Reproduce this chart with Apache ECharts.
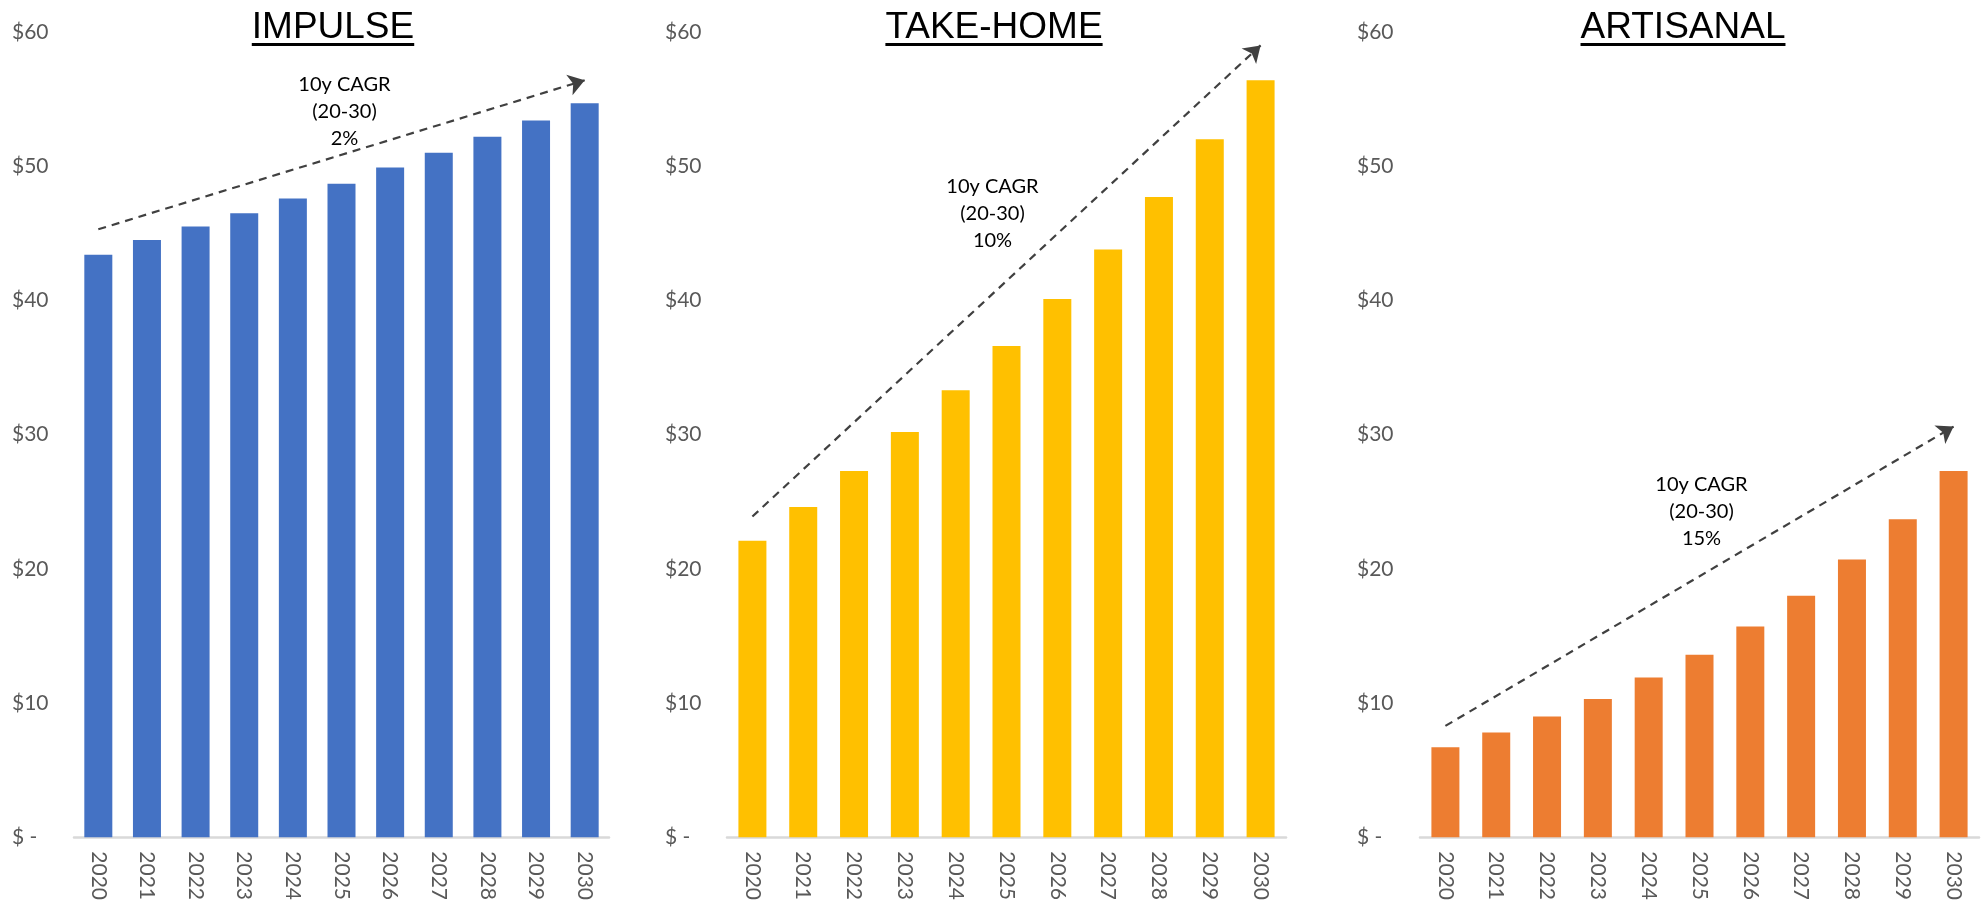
<!DOCTYPE html>
<html>
<head>
<meta charset="utf-8">
<title>Market size by segment</title>
<script src="https://cdn.jsdelivr.net/npm/echarts@6/dist/echarts.min.js"></script>
<style>
  html, body { margin: 0; padding: 0; background: #fff; }
  #main { width: 1984px; height: 903px; }
</style>
</head>
<body>
<div id="main"></div>
<script>
// categories
var years = ["2020", "2021", "2022", "2023", "2024", "2025", "2026", "2027", "2028", "2029", "2030"];

// series values ($)
var impulse = [43.4, 44.5, 45.5, 46.5, 47.6, 48.7, 49.9, 51.0, 52.2, 53.4, 54.7];
var takeHome = [22.1, 24.6, 27.3, 30.2, 33.3, 36.6, 40.1, 43.8, 47.7, 52.0, 56.4];
var artisanal = [6.7, 7.8, 9.0, 10.3, 11.9, 13.6, 15.7, 18.0, 20.7, 23.7, 27.3];

// panel titles and CAGR notes
var titles = ["IMPULSE", "TAKE-HOME", "ARTISANAL"];
var cagr = ["2%", "10%", "15%"];

// dashed trend arrows, value at 2020 and at 2030
var trendStart = [45.3, 23.9, 8.3];
var trendEnd = [56.4, 59.0, 30.6];

// where the CAGR note sits (value on the y axis)
var noteY = [54.1, 46.5, 24.3];

// y axis ticks
var yMin = 0, yMax = 60, yStep = 10;

var colors = ["#4472C4", "#FFC000", "#ED7D31"];
var values = [impulse, takeHome, artisanal];

// layout of the three panels
var panels = [
  { left: 74, width: 535, top: 32, height: 806, labelGap: 62, titleX: 333, noteDx: 3 },
  { left: 727, width: 559, top: 32, height: 808, labelGap: 62, titleX: 994, noteDx: -14 },
  { left: 1420, width: 559, top: 32, height: 809, labelGap: 63, titleX: 1683, noteDx: 2 }
];

var titleFont = "'Liberation Sans', Arial, sans-serif";
var bodyFont = "Lato, 'Open Sans', sans-serif";
var titleSize = 37;

// measure the title text so the underline fits it
var ctx = document.createElement("canvas").getContext("2d");
ctx.font = titleSize + "px " + titleFont;

var grids = [], xAxes = [], yAxes = [], series = [], graphics = [];

panels.forEach(function (p, i) {
  grids.push({ left: p.left, top: p.top, width: p.width, height: p.height });

  xAxes.push({
    type: "category",
    gridIndex: i,
    data: years,
    axisLine: { lineStyle: { color: "#d9d9d9", width: 2.5 } },
    axisTick: { show: false },
    axisLabel: {
      interval: 0,
      rotate: -90,
      margin: 14,
      color: "#595959",
      fontSize: 21,
      fontFamily: bodyFont
    }
  });

  yAxes.push({
    type: "value",
    gridIndex: i,
    min: yMin,
    max: yMax,
    interval: yStep,
    splitLine: { show: false },
    axisLine: { show: false },
    axisTick: { show: false },
    axisLabel: {
      align: "left",
      margin: p.labelGap,
      color: "#595959",
      fontSize: 21,
      fontFamily: bodyFont,
      formatter: function (v) {
        return v === 0 ? "$ -" : "$" + v;
      }
    }
  });

  series.push({
    name: titles[i],
    type: "bar",
    xAxisIndex: i,
    yAxisIndex: i,
    data: values[i],
    barWidth: 28,
    itemStyle: { color: colors[i] },
    silent: true,
    markLine: {
      silent: true,
      symbol: ["none", "arrow"],
      symbolSize: 16,
      label: { show: false },
      lineStyle: { color: "#404040", width: 2.2, type: [8, 6] },
      data: [[
        { coord: [years[0], trendStart[i]] },
        { coord: [years[years.length - 1], trendEnd[i]] }
      ]]
    },
    markPoint: {
      silent: true,
      symbol: "rect",
      symbolSize: 1,
      itemStyle: { color: "rgba(0,0,0,0)" },
      label: {
        show: true,
        position: "inside",
        offset: [p.noteDx, 0],
        color: "#000",
        fontSize: 20,
        lineHeight: 27,
        fontFamily: bodyFont,
        formatter: "10y CAGR\n(20-30)\n" + cagr[i]
      },
      data: [{ coord: ["2025", noteY[i]] }]
    }
  });

  // underlined panel title
  var w = ctx.measureText(titles[i]).width;
  graphics.push({
    type: "text",
    left: p.titleX - w / 2,
    top: 9,
    style: {
      text: titles[i],
      fill: "#000",
      font: titleSize + "px " + titleFont
    }
  });
  graphics.push({
    type: "rect",
    shape: { x: p.titleX - w / 2, y: 43, width: w, height: 3 },
    style: { fill: "#000" }
  });
});

var chart = echarts.init(document.getElementById("main"), null, { renderer: "canvas" });
chart.setOption({
  animation: false,
  backgroundColor: "#fff",
  grid: grids,
  xAxis: xAxes,
  yAxis: yAxes,
  series: series,
  graphic: graphics
});
</script>
</body>
</html>
